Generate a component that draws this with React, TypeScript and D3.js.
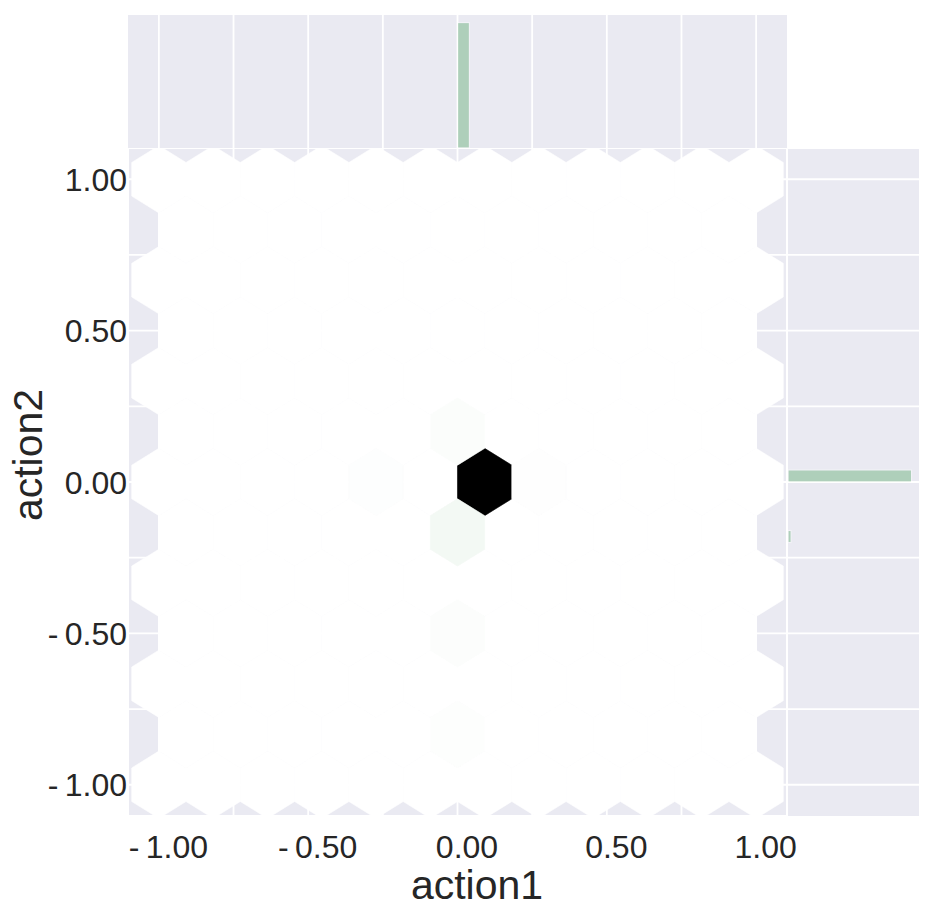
import { useEffect, useRef } from 'react'
import * as d3 from 'd3'

const WIDTH = 934
const HEIGHT = 907

// hexbin grid, as seaborn's jointplot(kind="hex") builds it
const GRIDSIZE = 11
const DATA_MIN = -1
const DATA_MAX = 1

// non-empty hexagons (centres in data units) and their counts
const hexX = [0.0909, 0.0, 0.0, -0.2727, 0.2727, 0.0, 0.0]
const hexY = [0.0, -0.1667, 0.1667, 0.0, 0.0, -0.5, -0.8333]
const hexCounts = [1000, 36, 12, 5, 3, 9, 6]

// marginal histograms, left edges of the bins and counts
const BIN_WIDTH = 0.04
const action1Bins = [0.0]
const action1Counts = [1020]
const action2Bins = [0.0, -0.2]
const action2Counts = [1020, 26]

const tickValues = [-1, -0.5, 0, 0.5, 1]
const gridValues = [-1, -0.75, -0.5, -0.25, 0, 0.25, 0.5, 0.75, 1]

const BG = '#eaeaf2'
const TEXT = '#262626'
const GREEN = '#55a868'
const FONT = '"Liberation Sans", Arial, sans-serif'

// axes boxes
const main = { left: 129, right: 786, top: 149, bottom: 815 }
const margTop = { left: 128, right: 787, top: 15, bottom: 148 }
const margRight = { left: 788, right: 919, top: 149, bottom: 816 }

const fmtTick = (v: number) => (v < 0 ? '-\u2009' : '') + Math.abs(v).toFixed(2)

function App() {
  const ref = useRef<SVGSVGElement | null>(null)

  useEffect(() => {
    if (!ref.current) return
    const svg = d3.select(ref.current)
    svg.selectAll('*').remove()

    const x = d3.scaleLinear().domain([-1.1, 1.1]).range([main.left, main.right])
    const y = d3.scaleLinear().domain([-1.1, 1.1]).range([main.bottom, main.top])

    // colormap: lightness of the green going 1 -> 0 over 12 stops
    const stops = d3.range(12).map(i => {
      const c = d3.hsl(GREEN)
      c.l = 1 - i / 11
      return c.formatRgb()
    })
    const cmap = d3.scaleLinear<string>()
      .domain(stops.map((_, i) => i / 11))
      .range(stops)
      .interpolate(d3.interpolateRgb)
    const maxCount = d3.max(hexCounts) as number

    svg.append('defs').append('clipPath').attr('id', 'main-clip')
      .append('rect')
      .attr('x', main.left).attr('y', main.top)
      .attr('width', main.right - main.left).attr('height', main.bottom - main.top)

    // ---- main axes ----
    svg.append('rect')
      .attr('x', main.left).attr('y', main.top)
      .attr('width', main.right - main.left).attr('height', main.bottom - main.top)
      .attr('fill', BG)

    const gridG = svg.append('g').attr('stroke', '#fff').attr('stroke-width', 1.8)
    gridValues.forEach(v => {
      gridG.append('line').attr('x1', x(v)).attr('x2', x(v)).attr('y1', main.top).attr('y2', main.bottom)
      gridG.append('line').attr('y1', y(v)).attr('y2', y(v)).attr('x1', main.left).attr('x2', main.right)
    })

    const sx = (DATA_MAX - DATA_MIN) / GRIDSIZE
    const ny = Math.floor(GRIDSIZE / Math.sqrt(3))
    const sy = (DATA_MAX - DATA_MIN) / ny
    const hexPath = (cx: number, cy: number) => {
      const pts: [number, number][] = [
        [cx + sx / 2, cy - sy / 6], [cx + sx / 2, cy + sy / 6], [cx, cy + sy / 3],
        [cx - sx / 2, cy + sy / 6], [cx - sx / 2, cy - sy / 6], [cx, cy - sy / 3]
      ]
      return 'M' + pts.map(p => `${x(p[0])},${y(p[1])}`).join('L') + 'Z'
    }

    const hexG = svg.append('g').attr('clip-path', 'url(#main-clip)')
    // empty cells of both lattices
    const cells: [number, number][] = []
    for (let i = 0; i <= GRIDSIZE; i++) {
      for (let j = 0; j <= ny; j++) cells.push([DATA_MIN + i * sx, DATA_MIN + j * sy])
    }
    for (let i = 0; i < GRIDSIZE; i++) {
      for (let j = 0; j < ny; j++) cells.push([DATA_MIN + (i + 0.5) * sx, DATA_MIN + (j + 0.5) * sy])
    }
    hexG.selectAll('.hex-empty')
      .data(cells)
      .enter()
      .append('path')
      .attr('d', d => hexPath(d[0], d[1]))
      .attr('fill', cmap(0))
      .attr('stroke', cmap(0))
      .attr('stroke-width', 0.6)

    hexG.selectAll('.hex-count')
      .data(hexCounts.map((c, i) => ({ cx: hexX[i], cy: hexY[i], c })))
      .enter()
      .append('path')
      .attr('d', d => hexPath(d.cx, d.cy))
      .attr('fill', d => cmap(d.c / maxCount))
      .attr('stroke', d => cmap(d.c / maxCount))
      .attr('stroke-width', 0.6)

    // ---- top marginal (action1) ----
    svg.append('rect')
      .attr('x', margTop.left).attr('y', margTop.top)
      .attr('width', margTop.right - margTop.left).attr('height', margTop.bottom - margTop.top)
      .attr('fill', BG)
    const topGrid = svg.append('g').attr('stroke', '#fff').attr('stroke-width', 1.8)
    gridValues.forEach(v => {
      topGrid.append('line').attr('x1', x(v)).attr('x2', x(v)).attr('y1', margTop.top).attr('y2', margTop.bottom)
    })
    const yTop = d3.scaleLinear()
      .domain([0, (d3.max(action1Counts) as number) * 1.06])
      .range([margTop.bottom, margTop.top])
    svg.append('g')
      .selectAll('rect')
      .data(action1Bins.map((b, i) => ({ b, c: action1Counts[i] })))
      .enter()
      .append('rect')
      .attr('x', d => x(d.b))
      .attr('width', d => x(d.b + BIN_WIDTH) - x(d.b))
      .attr('y', d => yTop(d.c))
      .attr('height', d => yTop(0) - yTop(d.c))
      .attr('fill', GREEN)
      .attr('stroke', '#fff')
      .attr('stroke-width', 1.2)
      .attr('opacity', 0.4)

    // ---- right marginal (action2) ----
    svg.append('rect')
      .attr('x', margRight.left).attr('y', margRight.top)
      .attr('width', margRight.right - margRight.left).attr('height', margRight.bottom - margRight.top)
      .attr('fill', BG)
    const rightGrid = svg.append('g').attr('stroke', '#fff').attr('stroke-width', 1.8)
    gridValues.forEach(v => {
      rightGrid.append('line').attr('y1', y(v)).attr('y2', y(v)).attr('x1', margRight.left).attr('x2', margRight.right)
    })
    const xRight = d3.scaleLinear()
      .domain([0, (d3.max(action2Counts) as number) * 1.06])
      .range([margRight.left, margRight.right])
    svg.append('g')
      .selectAll('rect')
      .data(action2Bins.map((b, i) => ({ b, c: action2Counts[i] })))
      .enter()
      .append('rect')
      .attr('y', d => y(d.b + BIN_WIDTH))
      .attr('height', d => y(d.b) - y(d.b + BIN_WIDTH))
      .attr('x', xRight(0))
      .attr('width', d => xRight(d.c) - xRight(0))
      .attr('fill', GREEN)
      .attr('stroke', '#fff')
      .attr('stroke-width', 1.2)
      .attr('opacity', 0.4)

    // ---- tick labels ----
    const labels = svg.append('g').attr('font-family', FONT).attr('fill', TEXT).attr('font-size', 32)
    tickValues.forEach(v => {
      labels.append('text')
        .attr('x', x(v) + 9.5)
        .attr('y', 858)
        .attr('text-anchor', 'middle')
        .text(fmtTick(v))
      labels.append('text')
        .attr('x', 127)
        .attr('y', y(v))
        .attr('dy', 11.5)
        .attr('text-anchor', 'end')
        .text(fmtTick(v))
    })

    // axis titles
    svg.append('text')
      .attr('x', 477)
      .attr('y', 899)
      .attr('text-anchor', 'middle')
      .attr('font-family', FONT)
      .attr('font-size', 41)
      .attr('fill', TEXT)
      .text('action1')
    svg.append('text')
      .attr('transform', 'translate(42,455) rotate(-90)')
      .attr('text-anchor', 'middle')
      .attr('font-family', FONT)
      .attr('font-size', 41)
      .attr('fill', TEXT)
      .text('action2')
  }, [])

  return (
    <svg
      ref={ref}
      width={WIDTH}
      height={HEIGHT}
      style={{ position: 'absolute', left: 0, top: 0, background: '#fff' }}
    />
  )
}

export default App
